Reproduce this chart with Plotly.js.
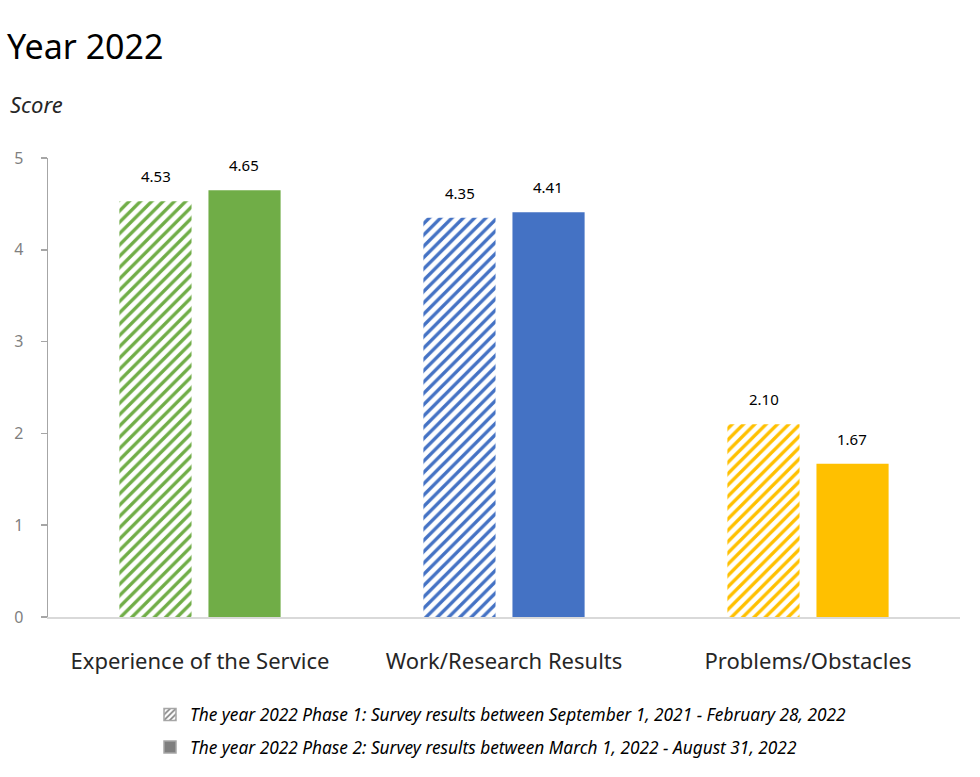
<!DOCTYPE html>
<html><head><meta charset="utf-8">
<script src="https://cdn.plot.ly/plotly-3.0.1.min.js"></script>
<style>body{margin:0;background:#fff}#chart{width:980px;height:777px}</style>
</head><body><div id="chart"></div>
<script>
const categories = ["Experience of the Service", "Work/Research Results", "Problems/Obstacles"];
const phase1 = [4.53, 4.35, 2.10];
const phase2 = [4.65, 4.41, 1.67];
const colors = ["#70ad47", "#4472c4", "#ffc000"];
const yTicks = [0, 1, 2, 3, 4, 5];
const legendNames = [
  "The year 2022 Phase 1: Survey results between September 1, 2021 - February 28, 2022",
  "The year 2022 Phase 2: Survey results between March 1, 2022 - August 31, 2022"
];
const FONT = "Noto Sans, DejaVu Sans, sans-serif";

const traces = [
  {type:"bar", x:categories, y:phase1, showlegend:false, hoverinfo:"skip", offsetgroup:"p1",
   marker:{color:"#ffffff", line:{width:0},
     pattern:{shape:"/", fgcolor:colors, bgcolor:"#ffffff", size:8, solidity:0.42, fillmode:"replace"}}},
  {type:"bar", x:categories, y:phase2, showlegend:false, hoverinfo:"skip", offsetgroup:"p2",
   marker:{color:colors, line:{width:0}}},
  {type:"bar", x:[categories[0]], y:[null], name:legendNames[0], legendgroup:"a", offsetgroup:"p1",
   marker:{color:"#ffffff", line:{color:"#a6a6a6", width:1.5},
     pattern:{shape:"/", fgcolor:"#7f7f7f", bgcolor:"#ffffff", size:5, solidity:0.4, fillmode:"replace"}}},
  {type:"bar", x:[categories[0]], y:[null], name:legendNames[1], legendgroup:"b", offsetgroup:"p2",
   marker:{color:"#7f7f7f", line:{color:"#a6a6a6", width:1.5}}}
];

const off = 0.146;
const annotations = [];
categories.forEach((c, i) => {
  annotations.push({xref:"x", yref:"y", x:i - off, y:phase1[i], text:phase1[i].toFixed(2),
    showarrow:false, yanchor:"bottom", yshift:13, font:{family:FONT, size:15, color:"#000"}});
  annotations.push({xref:"x", yref:"y", x:i + off, y:phase2[i], text:phase2[i].toFixed(2),
    showarrow:false, yanchor:"bottom", yshift:13, font:{family:FONT, size:15, color:"#000"}});
});
annotations.push({xref:"paper", yref:"paper", x:(8-48)/912, y:(619-104)/461, xanchor:"left", yanchor:"middle",
  text:"Score", showarrow:false, font:{family:FONT, size:22, color:"#262626", style:"italic"}});

const layout = {
  width:980, height:777,
  margin:{l:48, r:20, t:158, b:158},
  paper_bgcolor:"#fff", plot_bgcolor:"#fff",
  title:{text:"Year 2022", x:7/980, xanchor:"left", xref:"container", y:1-47/777, yanchor:"middle", yref:"container",
    font:{family:FONT, size:34, color:"#000"}},
  barmode:"group", bargap:0.414, bargroupgap:0.19,
  xaxis:{type:"category", range:[-0.5, 2.5], showline:true, linecolor:"#d9d9d9", linewidth:1.5, automargin:false,
    ticks:"", showgrid:false, zeroline:false, ticklabelstandoff:24,
    tickfont:{family:FONT, size:22, color:"#262626"}},
  yaxis:{range:[0, 5], tickvals:yTicks, showline:true, linecolor:"#a6a6a6", linewidth:1.5, automargin:false,
    ticks:"outside", ticklen:6, tickcolor:"#a6a6a6", tickwidth:1.5, showgrid:false, zeroline:false,
    ticklabelstandoff:14, tickfont:{family:FONT, size:16, color:"#7f7f7f"}},
  showlegend:true,
  legend:{orientation:"v", x:(150-48)/912, xanchor:"left", y:-(699-619)/461, yanchor:"top",
    tracegroupgap:7, font:{family:FONT, size:17.3, color:"#000", style:"italic"}, bgcolor:"rgba(0,0,0,0)"},
  annotations:annotations
};
Plotly.newPlot("chart", traces, layout, {displayModeBar:false, staticPlot:true});
</script></body></html>
